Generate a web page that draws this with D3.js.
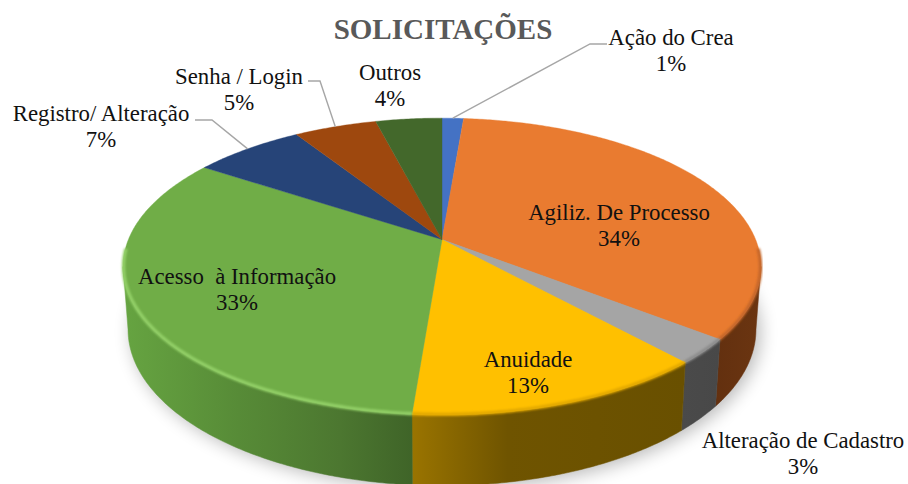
<!DOCTYPE html>
<html><head><meta charset="utf-8">
<script src="https://cdn.jsdelivr.net/npm/d3@7/dist/d3.min.js"></script>
<style>html,body{margin:0;padding:0;background:#fff}svg{display:block}
text{font-family:"Liberation Serif",serif;fill:#111}</style></head>
<body><svg id="c" width="908" height="484"></svg>
<script>
const title = "SOLICITAÇÕES";
const categories = ["Ação do Crea","Agiliz. De Processo","Alteração de Cadastro","Anuidade","Acesso  à Informação","Registro/ Alteração","Senha / Login","Outros"];
const values = [1.3,34.3,2.7,12.95,33.05,6.7,5.0,4.0];
const colors = ["#4472c4","#e97b30","#a5a5a5","#ffc000","#70ad47","#264478","#9e480e","#43682b"];
// layout of labels: centre x, baseline of first line
const labelX = [671,619,803,528,237,101,239,390];
const labelY = [45,220,448,367,284,121,84,80];
const elbows = [[[590,44],[607,44]],null,null,null,null,[[212,120],[195,120]],[[320,81],[308,81]],null];

const W=908,H=484, K=0.1824;
const topFace={ax:442,ay:239.5,A:313.6,B:143.5};
const baseFace={ax:442,ay:301,A:308.7,B:151};
const proj=(f,t)=>{const u=Math.sin(t),v=-Math.cos(t),d=1-K*v;return [f.ax+f.A*u/d,f.ay+f.B*v/d];};
const arcPts=(f,a,b)=>{const n=Math.max(2,Math.ceil((b-a)/0.01));return d3.range(n+1).map(i=>proj(f,a+(b-a)*i/n));};
const line=d3.line();

const svg=d3.select("#c");
const defs=svg.append("defs");
defs.append("filter").attr("id","soft").attr("x","-20%").attr("y","-20%").attr("width","140%").attr("height","140%")
  .append("feGaussianBlur").attr("stdDeviation",9);
defs.append("filter").attr("id","rim").attr("x","-5%").attr("y","-5%").attr("width","110%").attr("height","110%")
  .append("feGaussianBlur").attr("stdDeviation",1.1);

const pie=d3.pie().sort(null).value(d=>d);
const arcs=pie(values);
const tA=100.5*Math.PI/180,tB=259.5*Math.PI/180;

// drop shadow
svg.append("path").attr("d",line(arcPts({...baseFace,ax:446,ay:304},0,2*Math.PI))+"Z")
  .attr("fill","#000").attr("opacity",.28).attr("filter","url(#soft)");

// side walls
const wallStops={
 1:[["0%","#63300f"],["100%","#6b3511"]],
 2:[["0%","#4a4a4a"],["100%","#484848"]],
 3:[["0%","#9a7400"],["35%","#6f5400"],["100%","#695000"]],
 4:[["0%","#66a441"],["40%","#578b37"],["75%","#4c7730"],["100%","#3f6428"]]
};
arcs.forEach((d,i)=>{
  const a=Math.max(d.startAngle,tA),b=Math.min(d.endAngle,tB);
  if(b<=a||!wallStops[i]) return;
  const p=arcPts(topFace,a,b),q=arcPts(baseFace,a,b).reverse();
  const xs=p.concat(q).map(c=>c[0]);
  const g=defs.append("linearGradient").attr("id","w"+i).attr("gradientUnits","userSpaceOnUse")
    .attr("x1",d3.min(xs)).attr("x2",d3.max(xs)).attr("y1",0).attr("y2",0);
  g.selectAll("stop").data(wallStops[i]).join("stop").attr("offset",s=>s[0]).attr("stop-color",s=>s[1]);
  svg.append("path").attr("d",line(p.concat(q))+"Z").attr("fill",`url(#w${i})`)
    .attr("stroke",`url(#w${i})`).attr("stroke-width",.5);
});

// top faces
arcs.forEach((d,i)=>{
  svg.append("path").attr("d",line([[topFace.ax,topFace.ay],...arcPts(topFace,d.startAngle,d.endAngle)])+"Z")
    .attr("fill",colors[i]).attr("stroke",colors[i]).attr("stroke-width",.4);
});

// bevel highlight along the front rim
const rimColors={0:null,1:"#c4662a",2:"#8c8c8c",3:"#e2a800",4:"#93d068"};
arcs.forEach((d,i)=>{
  if(!rimColors[i]) return;
  const a=Math.max(d.startAngle,tA-0.12),b=Math.min(d.endAngle,tB+0.12);
  if(b<=a) return;
  svg.append("path").attr("d",line(arcPts({...topFace,A:topFace.A-0.5,B:topFace.B-0.5},a,b)))
    .attr("fill","none").attr("stroke",rimColors[i]).attr("stroke-width",3.4).attr("filter","url(#rim)");
});

// leader lines
arcs.forEach((d,i)=>{
  if(!elbows[i]) return;
  const mid=(d.startAngle+d.endAngle)/2;
  svg.append("path").attr("d",line([proj(topFace,mid),...elbows[i]]))
    .attr("fill","none").attr("stroke","#a6a6a6").attr("stroke-width",1.4);
});

// title
svg.append("text").attr("x",443).attr("y",39).attr("text-anchor","middle")
  .attr("font-size",29).attr("font-weight",700).style("fill","#595959").text(title);

// labels
categories.forEach((c,i)=>{
  const t=svg.append("text").attr("text-anchor","middle").attr("font-size",22.8)
    .style("white-space","pre");
  t.append("tspan").attr("x",labelX[i]).attr("y",labelY[i]).text(c);
  t.append("tspan").attr("x",labelX[i]).attr("y",labelY[i]+26).text(Math.round(values[i])+"%");
});
</script></body></html>
